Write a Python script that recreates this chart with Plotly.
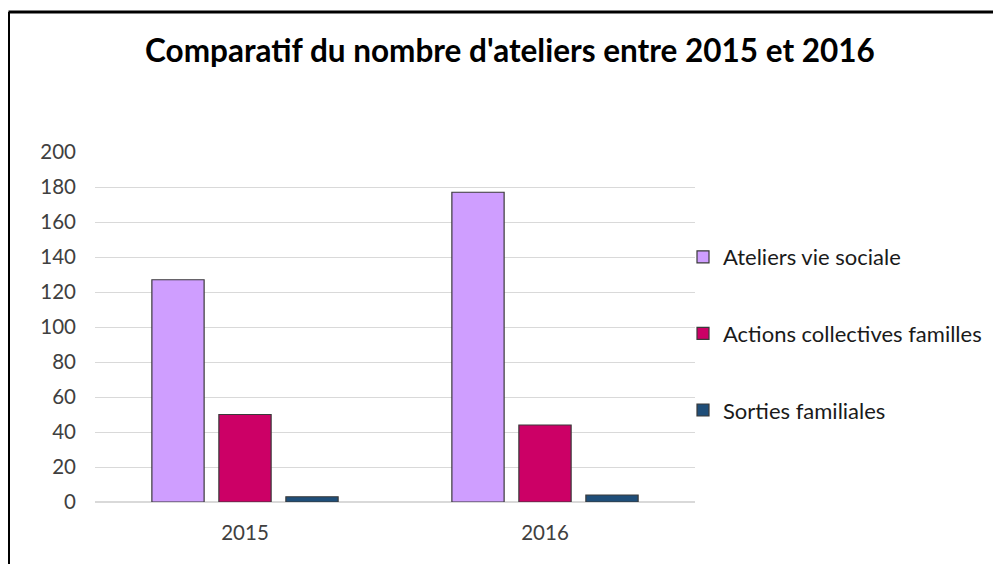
import plotly.graph_objects as go

years = ["2015", "2016"]
series_names = ["Ateliers vie sociale", "Actions collectives familles", "Sorties familiales"]
ateliers = [127, 177]
actions = [50, 44]
sorties = [3, 4]
y_ticks = [0, 20, 40, 60, 80, 100, 120, 140, 160, 180, 200]

colors = ["#CF9EFF", "#CC0066", "#1F4E79"]
values = [ateliers, actions, sorties]

FONT = "Lato"

fig = go.Figure()
for name, vals, col in zip(series_names, values, colors):
    fig.add_trace(go.Bar(
        x=years, y=vals, name=name, legendgroup=name,
        marker=dict(color=col, line=dict(color="#3a3a3a", width=1.2)),
    ))

W, H = 1001, 564
OFF = 8  # page body offset
L, R, T, B = 95 - OFF, W - (695 - OFF), 152 - OFF, H - (502 - OFF)
pw, ph = W - L - R, H - T - B

def px(x):
    # x in reference-screen pixels -> paper fraction
    return (x - OFF - L) / pw

def py(y):
    return (H - B - (y - OFF)) / ph

fig.update_layout(
    width=W, height=H,
    margin=dict(l=L, r=R, t=T, b=B),
    paper_bgcolor="white", plot_bgcolor="white",
    barmode="group", bargap=0.33, bargroupgap=0.22,
    font=dict(family=FONT, color="#404040", size=20),
    title=dict(
        text="<b>Comparatif du nombre d'ateliers entre 2015 et 2016</b>",
        x=(510 - OFF) / W, xanchor="center", xref="container",
        y=1 - (51 - OFF) / H, yanchor="middle", yref="container",
        font=dict(family=FONT, size=31.5, color="black"),
    ),
    showlegend=True,
    legend=dict(
        x=px(683), xanchor="left", y=py(236), yanchor="top",
        font=dict(family=FONT, size=22, color="#1a1a1a"),
        tracegroupgap=45, itemwidth=30, bgcolor="rgba(0,0,0,0)",
    ),
    xaxis=dict(
        showgrid=False, showline=True, linecolor="#d9d9d9", linewidth=1,
        ticks="", tickfont=dict(family=FONT, size=20.5, color="#404040"),
        ticklabelstandoff=12,
    ),
    yaxis=dict(
        range=[0, 200], tickvals=y_ticks, showgrid=True, gridcolor="#d9d9d9",
        gridwidth=1, zeroline=True, zerolinecolor="#d9d9d9", showline=False,
        ticks="", tickfont=dict(family=FONT, size=20.5, color="#404040"),
        ticklabelstandoff=18,
    ),
    shapes=[
        dict(type="line", xref="paper", yref="paper", x0=px(8.5), x1=px(8.5),
             y0=py(H + 20), y1=py(12), line=dict(color="black", width=3)),
        dict(type="line", xref="paper", yref="paper", x0=px(8.5), x1=px(W + 20),
             y0=py(12), y1=py(12), line=dict(color="black", width=3)),
    ],
)

fig.write_html("out.html")
